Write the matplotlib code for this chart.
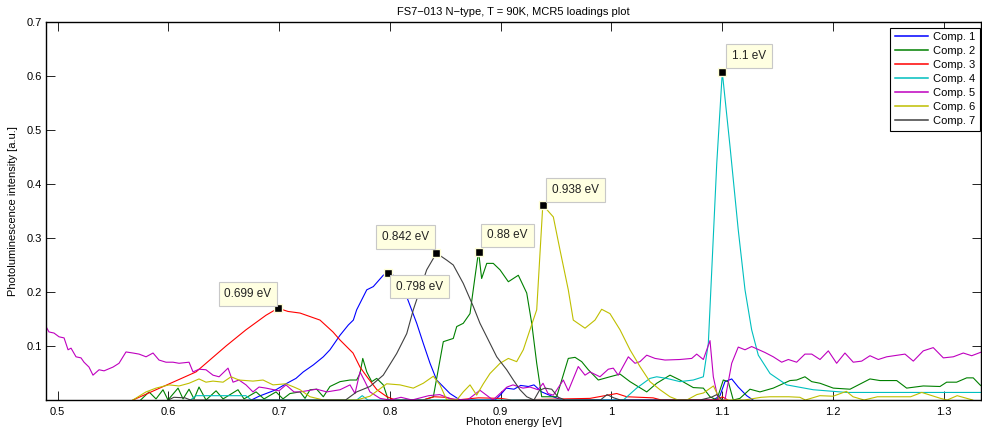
import matplotlib
matplotlib.use("Agg")
import matplotlib.pyplot as plt
from matplotlib.ticker import FixedLocator, FixedFormatter

plt.rcParams['font.family'] = ['Liberation Sans', 'DejaVu Sans']
plt.rcParams['font.size'] = 8

# ---------------- data ----------------
comp_labels = ["Comp. 1", "Comp. 2", "Comp. 3", "Comp. 4", "Comp. 5", "Comp. 6", "Comp. 7"]

c1_x = [0.675, 0.6819, 0.6972, 0.7062, 0.7152, 0.7218, 0.7309, 0.7399, 0.7459, 0.7550, 0.7625,
        0.7670, 0.7700, 0.7791, 0.7850, 0.7940, 0.798, 0.8061, 0.8152, 0.8242, 0.8301, 0.8362,
        0.8422, 0.8542, 0.8633, 0.895, 0.900, 0.905, 0.912, 0.918, 0.925, 0.930, 0.937, 0.945,
        0.955, 1.092, 1.0979, 1.1024, 1.1085, 1.1144, 1.1220, 1.1277]
c1_y = [0.0, 0.007, 0.019, 0.030, 0.040, 0.052, 0.065, 0.080, 0.093, 0.120, 0.139,
        0.148, 0.167, 0.204, 0.210, 0.231, 0.236, 0.228, 0.191, 0.142, 0.105, 0.068,
        0.037, 0.012, 0.0, 0.0, 0.010, 0.022, 0.020, 0.027, 0.025, 0.028, 0.015, 0.008,
        0.0, 0.0, 0.008, 0.034, 0.039, 0.024, 0.008, 0.0]

c2_x = [0.575, 0.5826, 0.5889, 0.5952, 0.5997, 0.6088, 0.6133, 0.6187, 0.6232, 0.6277, 0.6340,
        0.6431, 0.6494, 0.6629, 0.6683, 0.6792, 0.6864, 0.6972, 0.7035, 0.7098, 0.7189, 0.7234,
        0.7279, 0.7339, 0.7399, 0.7459, 0.7550, 0.7640, 0.7700, 0.7730, 0.7755, 0.7791, 0.7836,
        0.7881, 0.7940, 0.7986, 0.830, 0.8392, 0.8482, 0.8572, 0.8603, 0.8662, 0.8723, 0.8768,
        0.880, 0.8828, 0.8874, 0.8933, 0.8994, 0.9069, 0.9159, 0.9235, 0.9280, 0.9325, 0.9370,
        0.9505, 0.9610, 0.9671, 0.9731, 0.9791, 0.9881, 0.9986, 1.0077, 1.0167, 1.0318, 1.0408,
        1.0528, 1.0618, 1.0738, 1.0829, 1.0889, 1.0950, 1.1009, 1.1054, 1.1099, 1.1159, 1.1250,
        1.1340, 1.1460, 1.1611, 1.1671, 1.1746, 1.1807, 1.1882, 1.2002, 1.2153, 1.2333, 1.2423,
        1.2574, 1.2664, 1.2814, 1.2965, 1.3025, 1.3115, 1.3206, 1.3265, 1.3326, 1.3345]
c2_y = [0.0, 0.015, 0.002, 0.019, 0.0, 0.022, 0.002, 0.020, 0.002, 0.024, 0.0,
        0.017, 0.002, 0.019, 0.002, 0.015, 0.002, 0.015, 0.002, 0.012, 0.015, 0.003,
        0.019, 0.020, 0.006, 0.025, 0.034, 0.037, 0.037, 0.049, 0.077, 0.052, 0.034,
        0.040, 0.028, 0.0, 0.0, 0.006, 0.108, 0.114, 0.136, 0.142, 0.160, 0.228,
        0.275, 0.225, 0.253, 0.253, 0.241, 0.219, 0.231, 0.198, 0.142, 0.068, 0.006,
        0.006, 0.077, 0.079, 0.071, 0.056, 0.037, 0.043, 0.048, 0.034, 0.015, 0.031,
        0.046, 0.037, 0.023, 0.022, 0.006, 0.0, 0.037, 0.034, 0.0, 0.003, 0.020,
        0.015, 0.022, 0.036, 0.037, 0.043, 0.034, 0.031, 0.022, 0.020, 0.039, 0.036,
        0.036, 0.022, 0.026, 0.025, 0.033, 0.033, 0.041, 0.041, 0.028, 0.025]

c3_x = [0.5681, 0.5889, 0.6250, 0.6521, 0.6701, 0.6882, 0.699, 0.7080, 0.7189, 0.7369, 0.7486,
        0.7550, 0.7667, 0.7730, 0.7793, 0.7883, 0.7973, 0.805, 0.830, 0.840, 0.850, 0.860,
        0.880, 0.900, 0.910, 0.9806, 1.0047, 1.0137, 1.0375, 1.045, 1.095, 1.100, 1.105]
c3_y = [0.0, 0.019, 0.052, 0.100, 0.130, 0.157, 0.170, 0.164, 0.161, 0.148, 0.126,
        0.111, 0.087, 0.061, 0.043, 0.019, 0.006, 0.0, 0.0, 0.006, 0.005, 0.0,
        0.004, 0.003, 0.0, 0.003, 0.012, 0.006, 0.004, 0.0, 0.0, 0.006, 0.0]

c4_x = [0.620, 0.625, 0.670, 0.675, 0.770, 0.775, 0.780, 1.0107, 1.0227, 1.0347, 1.0408,
        1.0498, 1.0618, 1.0738, 1.0829, 1.0874, 1.0950, 1.100, 1.1070, 1.1144, 1.1205, 1.1265,
        1.1325, 1.1431, 1.1581, 1.1821, 1.2123, 1.2724, 1.3326, 1.3345]
c4_y = [0.0, 0.008, 0.008, 0.0, 0.0, 0.008, 0.0, 0.0, 0.022, 0.040, 0.043,
        0.040, 0.034, 0.037, 0.043, 0.105, 0.438, 0.607, 0.469, 0.315, 0.204, 0.130,
        0.083, 0.049, 0.028, 0.019, 0.014, 0.014, 0.014, 0.014]

c5_x = [0.4896, 0.4923, 0.4968, 0.5014, 0.5059, 0.5095, 0.5122, 0.5167, 0.5212, 0.5239, 0.5284,
        0.5320, 0.5375, 0.5420, 0.5501, 0.5555, 0.5618, 0.5681, 0.5736, 0.5799, 0.5862, 0.5916,
        0.5979, 0.6042, 0.6097, 0.6187, 0.6223, 0.6277, 0.6340, 0.6403, 0.6458, 0.6539, 0.6584,
        0.6638, 0.6701, 0.6764, 0.6819, 0.6882, 0.6999, 0.7062, 0.7134, 0.7189, 0.7339, 0.7430,
        0.7550, 0.7640, 0.7685, 0.7730, 0.7775, 0.7820, 0.7911, 0.800, 0.810, 0.820, 0.835,
        0.845, 0.855, 0.870, 0.8813, 0.8930, 0.9057, 0.9111, 0.9201, 0.9264, 0.9337, 0.9382,
        0.9427, 0.9475, 0.9565, 0.9610, 0.9700, 0.9761, 0.9806, 0.9896, 0.9971, 1.0016, 1.0061,
        1.0152, 1.0212, 1.0257, 1.0318, 1.0393, 1.0483, 1.0618, 1.0724, 1.0769, 1.0829, 1.0889,
        1.0919, 1.0964, 1.1024, 1.1085, 1.1144, 1.1205, 1.1265, 1.1385, 1.1460, 1.1536, 1.1596,
        1.1671, 1.1746, 1.1807, 1.1882, 1.1957, 1.2032, 1.2107, 1.2182, 1.2258, 1.2333, 1.2408,
        1.2484, 1.2649, 1.2724, 1.2814, 1.2904, 1.2995, 1.3085, 1.3175, 1.3251, 1.3341]
c5_y = [0.136, 0.126, 0.124, 0.117, 0.115, 0.093, 0.096, 0.080, 0.078, 0.070, 0.061,
        0.046, 0.056, 0.054, 0.061, 0.068, 0.089, 0.087, 0.085, 0.080, 0.087, 0.074,
        0.070, 0.070, 0.068, 0.070, 0.052, 0.057, 0.056, 0.046, 0.043, 0.059, 0.033,
        0.037, 0.028, 0.015, 0.024, 0.022, 0.017, 0.028, 0.015, 0.015, 0.020, 0.015,
        0.019, 0.028, 0.012, 0.052, 0.034, 0.015, 0.003, 0.0, 0.005, 0.0, 0.008,
        0.010, 0.002, 0.0, 0.018, 0.0, 0.024, 0.028, 0.022, 0.024, 0.019, 0.031,
        0.012, 0.009, 0.037, 0.017, 0.062, 0.046, 0.052, 0.043, 0.057, 0.059, 0.046,
        0.080, 0.068, 0.071, 0.083, 0.077, 0.074, 0.075, 0.077, 0.085, 0.075, 0.110,
        0.043, 0.0, 0.0, 0.068, 0.098, 0.093, 0.099, 0.088, 0.080, 0.070, 0.075,
        0.070, 0.085, 0.085, 0.075, 0.091, 0.068, 0.087, 0.070, 0.072, 0.082, 0.075,
        0.080, 0.085, 0.072, 0.091, 0.097, 0.078, 0.080, 0.087, 0.082, 0.089]

c6_x = [0.568, 0.5799, 0.5889, 0.6006, 0.6097, 0.6187, 0.6277, 0.6340, 0.6403, 0.6494, 0.6566,
        0.6638, 0.6764, 0.6855, 0.6945, 0.7062, 0.7134, 0.7189, 0.7279, 0.7399, 0.7700, 0.7820,
        0.7971, 0.8091, 0.8211, 0.8301, 0.8392, 0.8452, 0.8513, 0.8603, 0.8662, 0.8723, 0.8783,
        0.8843, 0.8903, 0.8994, 0.9069, 0.9144, 0.9204, 0.9264, 0.9325, 0.938, 0.9475, 0.9535,
        0.9610, 0.9655, 0.9761, 0.9851, 0.9911, 0.9986, 1.0077, 1.0167, 1.0257, 1.0347, 1.0438,
        1.0528, 1.060, 1.068, 1.077, 1.083, 1.092, 1.098, 1.120, 1.135, 1.143, 1.160, 1.170,
        1.175, 1.188, 1.200, 1.212, 1.218, 1.228, 1.240, 1.270, 1.280, 1.297, 1.303, 1.312, 1.326]
c6_y = [0.0, 0.015, 0.022, 0.028, 0.026, 0.031, 0.039, 0.033, 0.035, 0.033, 0.043,
        0.037, 0.035, 0.037, 0.028, 0.030, 0.024, 0.019, 0.006, 0.0, 0.0, 0.007,
        0.030, 0.028, 0.022, 0.031, 0.044, 0.028, 0.0, 0.0, 0.015, 0.028, 0.009,
        0.030, 0.049, 0.068, 0.077, 0.071, 0.093, 0.130, 0.167, 0.361, 0.339, 0.278,
        0.204, 0.148, 0.133, 0.148, 0.168, 0.160, 0.130, 0.093, 0.062, 0.034, 0.019,
        0.006, 0.0, 0.0, 0.010, 0.013, 0.026, 0.0, 0.0, 0.005, 0.006, 0.006, 0.005,
        0.0, 0.008, 0.007, 0.016, 0.006, 0.0, 0.006, 0.006, 0.014, 0.003, 0.0, 0.008, 0.0]

c7_x = [0.600, 0.605, 0.615, 0.620, 0.760, 0.7700, 0.7820, 0.7940, 0.8061, 0.8152, 0.8211,
        0.8332, 0.842, 0.8513, 0.8572, 0.8662, 0.8753, 0.8813, 0.8874, 0.8964, 0.9054, 0.9114,
        0.9174, 0.9235, 0.930, 0.935, 0.940, 0.946, 0.952, 0.958, 0.990, 0.996, 1.002, 1.008,
        1.080, 1.090, 1.095, 1.100]
c7_y = [0.0, 0.005, 0.004, 0.0, 0.0, 0.015, 0.025, 0.046, 0.086, 0.123, 0.167,
        0.241, 0.272, 0.259, 0.250, 0.216, 0.173, 0.142, 0.117, 0.080, 0.056, 0.037,
        0.019, 0.006, 0.0, 0.018, 0.022, 0.020, 0.005, 0.0, 0.0, 0.010, 0.004, 0.0,
        0.0, 0.005, 0.010, 0.0]

# data tips (peak positions)
peak_x = [0.699, 0.798, 0.842, 0.88, 0.938, 1.1]
peak_y = [0.170, 0.236, 0.272, 0.275, 0.361, 0.607]

x_ticks = [0.5, 0.6, 0.7, 0.8, 0.9, 1.0, 1.1, 1.2, 1.3]
x_tick_labels = ["0.5", "0.6", "0.7", "0.8", "0.9", "1", "1.1", "1.2", "1.3"]
y_ticks = [0.1, 0.2, 0.3, 0.4, 0.5, 0.6, 0.7]
y_tick_labels = ["0.1", "0.2", "0.3", "0.4", "0.5", "0.6", "0.7"]

# ---------------- styling / layout ----------------
colors = [(0, 0, 1), (0, 0.5, 0), (1, 0, 0), (0, 0.75, 0.75),
          (0.75, 0, 0.75), (0.75, 0.75, 0), (0.25, 0.25, 0.25)]
tip_offsets = [(-30, 14), (32, -14), (-31, 16), (29, 16), (33, 15), (27, 16)]

W, H = 982, 432
fig = plt.figure(figsize=(W / 100, H / 100), dpi=100)
ax = fig.add_axes([46 / W, (H - 400) / H, (981 - 46) / W, 378 / H])

series = [(c1_x, c1_y), (c2_x, c2_y), (c3_x, c3_y), (c4_x, c4_y),
          (c5_x, c5_y), (c6_x, c6_y), (c7_x, c7_y)]
for (sx, sy), col, lab in zip(series, colors, comp_labels):
    ax.plot(sx, sy, color=col, lw=0.8, label=lab)

ax.set_xlim(0.4896, 1.3335)
ax.set_ylim(0, 0.7)
ax.xaxis.set_major_locator(FixedLocator(x_ticks))
ax.xaxis.set_major_formatter(FixedFormatter(x_tick_labels))
ax.yaxis.set_major_locator(FixedLocator(y_ticks))
ax.yaxis.set_major_formatter(FixedFormatter(y_tick_labels))
ax.tick_params(direction='in', top=True, right=True, length=6.5, width=0.6,
               labelsize=8, colors='black', pad=3)
ax.tick_params(axis='x', pad=5)
for s in ax.spines.values():
    s.set_linewidth(1.0)
    s.set_color('black')

ax.set_title("FS7\u2212013 N\u2212type, T = 90K, MCR5 loadings plot", fontsize=8, pad=5)
ax.set_xlabel("Photon energy [eV]", fontsize=8)
ax.set_ylabel("Photoluminescence intensity [a.u.]", fontsize=8)
ax.xaxis.set_label_coords(0.5, -0.044)
ax.yaxis.set_label_coords(-0.030, 0.5)

leg = ax.legend(loc='upper right', bbox_to_anchor=(0.999, 0.985), borderaxespad=0,
                fontsize=8, handlelength=3.0, handletextpad=0.45, labelspacing=0.36,
                borderpad=0.42, fancybox=False, framealpha=1, edgecolor='black')
leg.get_frame().set_linewidth(0.8)
for lh in leg.get_lines():
    lh.set_linewidth(1.1)

for px_, py_, (dx, dy) in zip(peak_x, peak_y, tip_offsets):
    ax.plot([px_], [py_], 's', ms=6, mfc='black', mec='#ffffd8', mew=1.0, zorder=10)
    ax.annotate(f"{px_:g} eV", xy=(px_, py_), xytext=(dx, dy), textcoords='offset pixels',
                ha='center', va='center', fontsize=8.5, color='#222222', zorder=11,
                bbox=dict(boxstyle='square,pad=0.5', fc='#ffffe1', ec='#c8c8c8', lw=0.8))

fig.savefig("out.png", dpi=100)
